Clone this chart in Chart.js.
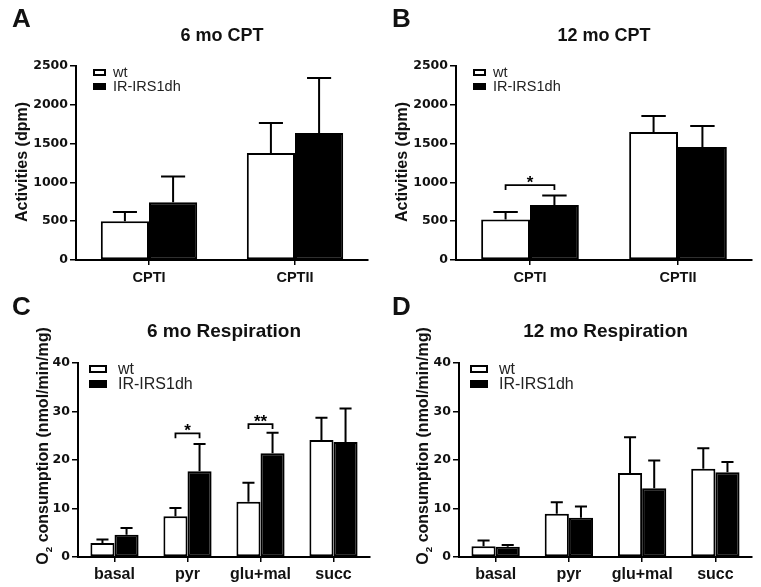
<!DOCTYPE html>
<html>
<head>
<meta charset="utf-8">
<script src="https://cdn.jsdelivr.net/npm/chart.js@4.4.1/dist/chart.umd.min.js"></script>
<style>
  html, body { margin: 0; padding: 0; background: #fff; }
  body { width: 761px; height: 587px; position: relative; overflow: hidden; }
  canvas { position: absolute; }
</style>
</head>
<body>
<canvas id="cA" width="380" height="290" style="left:0;top:0;width:380px;height:290px"></canvas>
<canvas id="cB" width="381" height="290" style="left:380px;top:0;width:381px;height:290px"></canvas>
<canvas id="cC" width="380" height="297" style="left:0;top:290px;width:380px;height:297px"></canvas>
<canvas id="cD" width="381" height="297" style="left:380px;top:290px;width:381px;height:297px"></canvas>
<script>
// ---------------- DATA ----------------
const seriesNames = ['wt', 'IR-IRS1dh'];

const cptCategories = ['CPTI', 'CPTII'];
const cptTicks = [0, 500, 1000, 1500, 2000, 2500];

// A: 6 mo CPT (mean, SEM)
const cpt6Wt = [500, 1380];
const cpt6WtErr = [120, 385];
const cpt6Ir = [745, 1635];
const cpt6IrErr = [330, 710];
const cpt6Sig = [];

// B: 12 mo CPT
const cpt12Wt = [522, 1650];
const cpt12WtErr = [95, 207];
const cpt12Ir = [710, 1455];
const cpt12IrErr = [120, 272];
const cpt12Sig = [{ cat: 0, y: 966, label: '*' }];

const respCategories = ['basal', 'pyr', 'glu+mal', 'succ'];
const respTicks = [0, 10, 20, 30, 40];

// C: 6 mo Respiration
const resp6Wt = [2.9, 8.4, 11.4, 24.1];
const resp6WtErr = [0.7, 1.7, 3.9, 4.6];
const resp6Ir = [4.6, 17.7, 21.4, 23.7];
const resp6IrErr = [1.4, 5.6, 4.2, 6.9];
const resp6Sig = [{ cat: 1, y: 25.5, label: '*' }, { cat: 2, y: 27.4, label: '**' }];

// D: 12 mo Respiration
const resp12Wt = [2.2, 8.9, 17.3, 18.2];
const resp12WtErr = [1.2, 2.4, 7.4, 4.2];
const resp12Ir = [2.1, 8.1, 14.2, 17.5];
const resp12IrErr = [0.4, 2.3, 5.7, 2.1];
const resp12Sig = [];

// ---------------- DECOR PLUGIN ----------------
const decor = {
  id: 'decor',
  afterDatasetsDraw(chart, args, o) {
    const ctx = chart.ctx;
    const ca = chart.chartArea;
    const ys = chart.scales.y;
    ctx.save();
    // error bars
    chart.data.datasets.forEach((ds, di) => {
      const meta = chart.getDatasetMeta(di);
      meta.data.forEach((el, i) => {
        const top = ds.data[i] + ds.errors[i];
        const yTop = ys.getPixelForValue(top);
        const yBar = ys.getPixelForValue(ds.data[i]);
        const half = el.width / 4;
        ctx.strokeStyle = '#000';
        ctx.lineWidth = 2;
        ctx.beginPath();
        ctx.moveTo(el.x, yBar);
        ctx.lineTo(el.x, yTop);
        ctx.moveTo(el.x - half, yTop);
        ctx.lineTo(el.x + half, yTop);
        ctx.stroke();
      });
    });
    // significance brackets
    (o.sig || []).forEach(s => {
      const a = chart.getDatasetMeta(0).data[s.cat];
      const b = chart.getDatasetMeta(1).data[s.cat];
      const y = ys.getPixelForValue(s.y);
      ctx.strokeStyle = '#000';
      ctx.lineWidth = 1.8;
      ctx.beginPath();
      ctx.moveTo(a.x, y + 5);
      ctx.lineTo(a.x, y);
      ctx.lineTo(b.x, y);
      ctx.lineTo(b.x, y + 5);
      ctx.stroke();
      ctx.fillStyle = '#000';
      ctx.font = 'bold 17px "Liberation Sans"';
      ctx.textAlign = 'center';
      ctx.textBaseline = 'alphabetic';
      ctx.fillText(s.label, (a.x + b.x) / 2, y + 3);
    });
    // legend
    const L = o.legend;
    chart.data.datasets.forEach((ds, di) => {
      const bx = ca.left + L.dx;
      const by = ca.top + L.dy + di * L.gap;
      ctx.fillStyle = ds.backgroundColor;
      ctx.fillRect(bx, by, L.w, L.h);
      ctx.strokeStyle = '#000';
      ctx.lineWidth = 2;
      ctx.strokeRect(bx + 1, by + 1, L.w - 2, L.h - 2);
      ctx.fillStyle = '#222';
      ctx.font = L.size + 'px "Liberation Sans"';
      ctx.textAlign = 'left';
      ctx.textBaseline = 'middle';
      ctx.fillText(ds.label, ca.left + L.tx, by + L.h / 2 + 0.5);
    });
    // title
    ctx.fillStyle = '#111';
    ctx.font = 'bold ' + o.titleSize + 'px "Liberation Sans"';
    ctx.textAlign = 'center';
    ctx.textBaseline = 'alphabetic';
    ctx.fillText(o.title, (ca.left + ca.right) / 2, ca.top - o.titleGap);
    // panel letter
    ctx.font = 'bold 26px "Liberation Sans"';
    ctx.textAlign = 'left';
    ctx.fillText(o.letter, 12, o.letterBase);
    // y title (rotated)
    ctx.translate(o.yTitleX, o.yTitleY);
    ctx.rotate(-Math.PI / 2);
    ctx.textBaseline = 'alphabetic';
    const parts = o.yTitle;
    let total = 0;
    const widths = parts.map(p => {
      ctx.font = 'bold ' + (p.sub ? o.yTitleSize * 0.62 : o.yTitleSize) + 'px "Liberation Sans"';
      const w = ctx.measureText(p.t).width;
      total += w;
      return w;
    });
    let x = -total / 2;
    parts.forEach((p, i) => {
      ctx.font = 'bold ' + (p.sub ? o.yTitleSize * 0.62 : o.yTitleSize) + 'px "Liberation Sans"';
      ctx.textAlign = 'left';
      ctx.fillText(p.t, x, p.sub ? 4 : 0);
      x += widths[i];
    });
    ctx.restore();
  }
};

function makeChart(id, cats, wt, wtErr, ir, irErr, ticks, pad, cfg) {
  const maxV = ticks[ticks.length - 1];
  const step = ticks[1] - ticks[0];
  return new Chart(document.getElementById(id), {
    type: 'bar',
    data: {
      labels: cats,
      datasets: [
        { label: seriesNames[0], data: wt, errors: wtErr, backgroundColor: '#ffffff' },
        { label: seriesNames[1], data: ir, errors: irErr, backgroundColor: '#000000' }
      ].map(d => Object.assign(d, {
        borderColor: '#000', borderWidth: 2, borderSkipped: false,
        barPercentage: 1.0, categoryPercentage: 0.66
      }))
    },
    plugins: [decor],
    options: {
      responsive: false, animation: false, devicePixelRatio: 1,
      layout: { padding: pad },
      plugins: {
        legend: { display: false }, tooltip: { enabled: false },
        decor: cfg
      },
      scales: {
        x: {
          offset: true,
          grid: { offset: false, drawOnChartArea: false, drawTicks: true, tickLength: 5, color: '#000', lineWidth: 1.5 },
          border: { display: true, color: '#000', width: 2 },
          ticks: { color: '#111', padding: cfg.xPad, font: { family: 'Liberation Sans', weight: 'bold', size: cfg.xSize } },
          afterFit: s => { s.height = 30; }
        },
        y: {
          min: 0, max: maxV,
          afterBuildTicks: s => { s.ticks = ticks.map(v => ({ value: v })); },
          grid: { drawOnChartArea: false, drawTicks: true, tickLength: 6, color: '#000', lineWidth: 1.5 },
          border: { display: true, color: '#000', width: 2 },
          ticks: { stepSize: step, color: '#111', padding: 2, callback: v => String(v),
                   font: { family: 'DejaVu Sans', weight: 'bold', size: 12.5 } },
          afterFit: s => { s.width = 60; }
        }
      }
    }
  });
}

const legSmall = { dx: 17, dy: 3, gap: 14, w: 13, h: 7, tx: 37, size: 14.5 };
const legBig = { dx: 11, dy: 2, gap: 15, w: 18, h: 8, tx: 40, size: 16 };
const actTitle = [{ t: 'Activities (dpm)' }];
const o2Title = [{ t: 'O' }, { t: '2', sub: true }, { t: ' consumption (nmol/min/mg)' }];

makeChart('cA', cptCategories, cpt6Wt, cpt6WtErr, cpt6Ir, cpt6IrErr, cptTicks,
  { left: 16, top: 66, right: 12, bottom: 0 },
  { letter: 'A', letterBase: 27, title: '6 mo CPT', titleSize: 18, titleGap: 25, sig: cpt6Sig,
    legend: legSmall, yTitle: actTitle, yTitleSize: 16, yTitleX: 27, yTitleY: 162, xSize: 14.5, xPad: 4 });

makeChart('cB', cptCategories, cpt12Wt, cpt12WtErr, cpt12Ir, cpt12IrErr, cptTicks,
  { left: 16, top: 66, right: 9, bottom: 0 },
  { letter: 'B', letterBase: 27, title: '12 mo CPT', titleSize: 18, titleGap: 25, sig: cpt12Sig,
    legend: legSmall, yTitle: actTitle, yTitleSize: 16, yTitleX: 27, yTitleY: 162, xSize: 14.5, xPad: 4 });

makeChart('cC', respCategories, resp6Wt, resp6WtErr, resp6Ir, resp6IrErr, respTicks,
  { left: 18, top: 73, right: 10, bottom: 0 },
  { letter: 'C', letterBase: 25, title: '6 mo Respiration', titleSize: 19, titleGap: 26, sig: resp6Sig,
    legend: legBig, yTitle: o2Title, yTitleSize: 16, yTitleX: 48, yTitleY: 156, xSize: 16, xPad: 3 });

makeChart('cD', respCategories, resp12Wt, resp12WtErr, resp12Ir, resp12IrErr, respTicks,
  { left: 19, top: 73, right: 9, bottom: 0 },
  { letter: 'D', letterBase: 25, title: '12 mo Respiration', titleSize: 19, titleGap: 26, sig: resp12Sig,
    legend: legBig, yTitle: o2Title, yTitleSize: 16, yTitleX: 48, yTitleY: 156, xSize: 16, xPad: 3 });
</script>
</body>
</html>
